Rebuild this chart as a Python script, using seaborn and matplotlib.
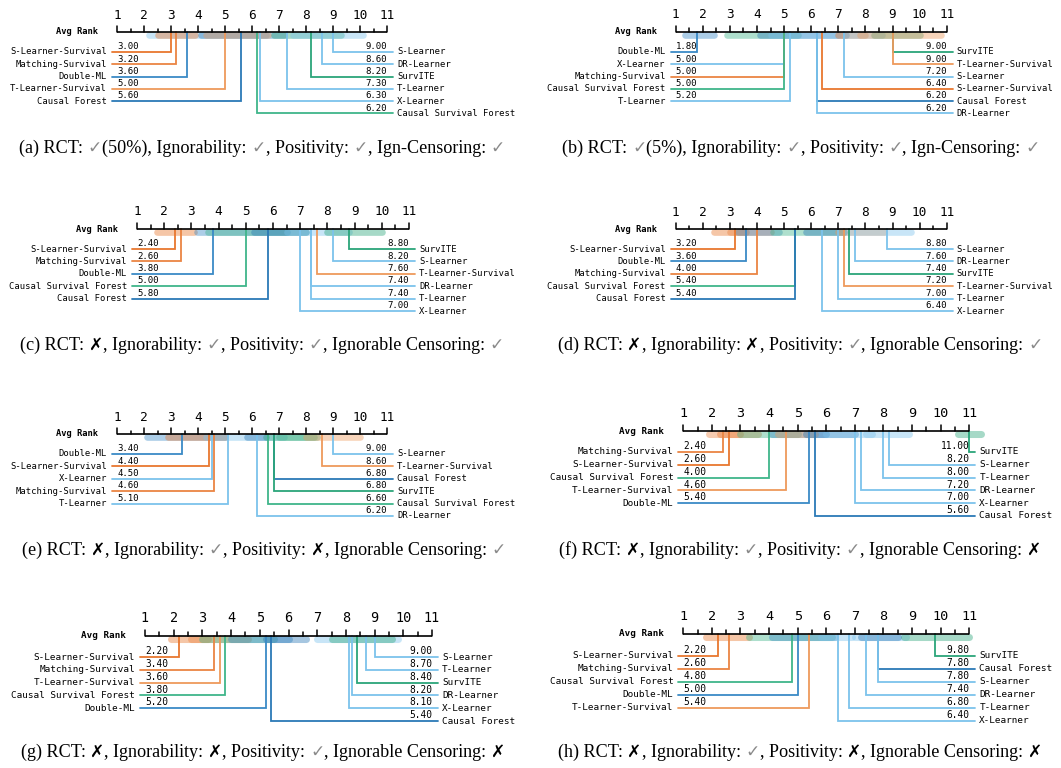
import numpy as np
import pandas as pd
import seaborn as sns
import matplotlib
matplotlib.use("Agg")
import matplotlib.pyplot as plt

sns.set_theme(style="white")
plt.rcParams["font.family"] = ["DejaVu Sans"]

# ---------------- data ----------------
panels = ["a", "b", "c", "d", "e", "f", "g", "h"]

# display order: first 5 are on the left (top->bottom), last 6 on the right (top->bottom)
methods = {
    "a": ["S-Learner-Survival", "Matching-Survival", "Double-ML", "T-Learner-Survival", "Causal Forest",
          "S-Learner", "DR-Learner", "SurvITE", "T-Learner", "X-Learner", "Causal Survival Forest"],
    "b": ["Double-ML", "X-Learner", "Matching-Survival", "Causal Survival Forest", "T-Learner",
          "SurvITE", "T-Learner-Survival", "S-Learner", "S-Learner-Survival", "Causal Forest", "DR-Learner"],
    "c": ["S-Learner-Survival", "Matching-Survival", "Double-ML", "Causal Survival Forest", "Causal Forest",
          "SurvITE", "S-Learner", "T-Learner-Survival", "DR-Learner", "T-Learner", "X-Learner"],
    "d": ["S-Learner-Survival", "Double-ML", "Matching-Survival", "Causal Survival Forest", "Causal Forest",
          "S-Learner", "DR-Learner", "SurvITE", "T-Learner-Survival", "T-Learner", "X-Learner"],
    "e": ["Double-ML", "S-Learner-Survival", "X-Learner", "Matching-Survival", "T-Learner",
          "S-Learner", "T-Learner-Survival", "Causal Forest", "SurvITE", "Causal Survival Forest", "DR-Learner"],
    "f": ["Matching-Survival", "S-Learner-Survival", "Causal Survival Forest", "T-Learner-Survival", "Double-ML",
          "SurvITE", "S-Learner", "T-Learner", "DR-Learner", "X-Learner", "Causal Forest"],
    "g": ["S-Learner-Survival", "Matching-Survival", "T-Learner-Survival", "Causal Survival Forest", "Double-ML",
          "S-Learner", "T-Learner", "SurvITE", "DR-Learner", "X-Learner", "Causal Forest"],
    "h": ["S-Learner-Survival", "Matching-Survival", "Causal Survival Forest", "Double-ML", "T-Learner-Survival",
          "SurvITE", "Causal Forest", "S-Learner", "DR-Learner", "T-Learner", "X-Learner"],
}

ranks = {
    "a": [3.00, 3.20, 3.60, 5.00, 5.60, 9.00, 8.60, 8.20, 7.30, 6.30, 6.20],
    "b": [1.80, 5.00, 5.00, 5.00, 5.20, 9.00, 9.00, 7.20, 6.40, 6.20, 6.20],
    "c": [2.40, 2.60, 3.80, 5.00, 5.80, 8.80, 8.20, 7.60, 7.40, 7.40, 7.00],
    "d": [3.20, 3.60, 4.00, 5.40, 5.40, 8.80, 7.60, 7.40, 7.20, 7.00, 6.40],
    "e": [3.40, 4.40, 4.50, 4.60, 5.10, 9.00, 8.60, 6.80, 6.80, 6.60, 6.20],
    "f": [2.40, 2.60, 4.00, 4.60, 5.40, 11.00, 8.20, 8.00, 7.20, 7.00, 5.60],
    "g": [2.20, 3.40, 3.60, 3.80, 5.20, 9.00, 8.70, 8.40, 8.20, 8.10, 5.40],
    "h": [2.20, 2.60, 4.80, 5.00, 5.40, 9.80, 7.80, 7.80, 7.40, 6.80, 6.40],
}

# shaded rank-spread bands under the axis: (method, low rank, high rank)
bands = {
    "a": [("X-Learner", 2.2, 6.5), ("S-Learner-Survival", 2.5, 3.9), ("Causal Forest", 4.1, 7.2),
          ("T-Learner-Survival", 4.3, 6.6), ("SurvITE", 6.8, 9.3), ("S-Learner", 7.5, 10.1)],
    "b": [("Double-ML", 1.35, 2.4), ("Causal Survival Forest", 2.9, 5.5), ("Causal Forest", 4.1, 7.3),
          ("X-Learner", 4.5, 7.0), ("S-Learner-Survival", 7.0, 8.0), ("S-Learner", 7.3, 8.6),
          ("SurvITE", 8.3, 10.0), ("T-Learner-Survival", 7.8, 10.8)],
    "c": [("S-Learner-Survival", 1.75, 3.1), ("Double-ML", 3.2, 6.5), ("Causal Survival Forest", 3.6, 7.2),
          ("Causal Forest", 5.3, 7.2), ("T-Learner", 6.5, 8.8), ("SurvITE", 8.0, 10.0)],
    "d": [("S-Learner-Survival", 2.4, 3.6), ("Matching-Survival", 3.0, 4.5), ("Double-ML", 3.3, 4.8),
          ("Causal Survival Forest", 4.6, 7.2), ("Causal Forest", 5.8, 7.2),
          ("T-Learner-Survival", 7.0, 8.7), ("DR-Learner", 7.3, 9.7)],
    "e": [("Double-ML", 2.1, 5.0), ("S-Learner-Survival", 2.9, 5.0), ("X-Learner", 4.3, 7.2),
          ("Causal Forest", 5.8, 6.5), ("SurvITE", 6.5, 8.4), ("Causal Survival Forest", 7.0, 8.3),
          ("T-Learner-Survival", 8.0, 10.0)],
    "f": [("Matching-Survival", 1.9, 3.0), ("S-Learner-Survival", 2.3, 3.6), ("Causal Survival Forest", 3.0, 5.0),
          ("Double-ML", 4.1, 6.0), ("T-Learner-Survival", 4.3, 5.6), ("Causal Forest", 5.3, 7.0),
          ("X-Learner", 6.0, 7.6), ("S-Learner", 7.4, 8.9), ("SurvITE", 10.6, 11.4)],
    "g": [("S-Learner-Survival", 1.9, 3.2), ("Matching-Survival", 2.6, 4.6), ("Causal Survival Forest", 3.0, 5.5),
          ("Double-ML", 4.0, 6.0), ("Causal Forest", 5.2, 6.6), ("X-Learner", 7.0, 9.8), ("SurvITE", 7.5, 9.6)],
    "h": [("S-Learner-Survival", 1.8, 3.3), ("Causal Survival Forest", 3.3, 6.2), ("Double-ML", 4.1, 6.3),
          ("X-Learner", 5.8, 6.9), ("T-Learner", 7.0, 8.8), ("Causal Forest", 7.2, 8.5), ("SurvITE", 8.7, 11.0)],
}

captions = {
    "a": "(a) RCT: ✓(50%), Ignorability: ✓, Positivity: ✓, Ign-Censoring: ✓",
    "b": "(b) RCT: ✓(5%), Ignorability: ✓, Positivity: ✓, Ign-Censoring: ✓",
    "c": "(c) RCT: ✗, Ignorability: ✓, Positivity: ✓, Ignorable Censoring: ✓",
    "d": "(d) RCT: ✗, Ignorability: ✗, Positivity: ✓, Ignorable Censoring: ✓",
    "e": "(e) RCT: ✗, Ignorability: ✓, Positivity: ✗, Ignorable Censoring: ✓",
    "f": "(f) RCT: ✗, Ignorability: ✓, Positivity: ✓, Ignorable Censoring: ✗",
    "g": "(g) RCT: ✗, Ignorability: ✗, Positivity: ✓, Ignorable Censoring: ✗",
    "h": "(h) RCT: ✗, Ignorability: ✓, Positivity: ✗, Ignorable Censoring: ✗",
}

tick_values = list(range(1, 12))

# ---------------- styles ----------------
LB = "#7cc3ec"
colors = {
    "S-Learner-Survival": "#e8772f", "Matching-Survival": "#ea8543", "T-Learner-Survival": "#ee9a5c",
    "Double-ML": "#3a8ac6", "Causal Forest": "#2b79b6",
    "S-Learner": LB, "T-Learner": LB, "X-Learner": LB, "DR-Learner": LB,
    "SurvITE": "#2ba57a", "Causal Survival Forest": "#3fb58a",
}

# layout (pixels): rank-1 x, rank-11 x, axis y, first row y, row step, caption centre x, caption baseline
layout = {
    "a": dict(r1=117, r11=387, ay=32, row0=52, step=12.3, cx=262, cy=153, box=(0, 530, 0, 196)),
    "b": dict(r1=675.7, r11=946.7, ay=32, row0=52, step=12.3, cx=801, cy=153, box=(530, 1061, 0, 196)),
    "c": dict(r1=137, r11=409, ay=229, row0=249, step=12.4, cx=262, cy=350, box=(0, 530, 196, 398)),
    "d": dict(r1=675.7, r11=946.7, ay=229, row0=249, step=12.4, cx=800, cy=350, box=(530, 1061, 196, 398)),
    "e": dict(r1=117, r11=387, ay=434, row0=454, step=12.4, cx=264, cy=555, box=(0, 530, 398, 600)),
    "f": dict(r1=683.3, r11=969.3, ay=431, row0=452, step=12.8, cx=800, cy=555, box=(530, 1061, 398, 600)),
    "g": dict(r1=145, r11=432, ay=636, row0=657, step=12.8, cx=263, cy=757, box=(0, 530, 600, 768)),
    "h": dict(r1=683.3, r11=969.3, ay=634, row0=656, step=12.9, cx=800, cy=757, box=(530, 1061, 600, 768)),
}

W, H = 1061, 768
fig = plt.figure(figsize=(W / 100, H / 100), dpi=100)
fig.patch.set_facecolor("white")
MONO = "DejaVu Sans Mono"

for p in panels:
    L = layout[p]
    x0, x1, y0, y1 = L["box"]
    s = (L["r11"] - L["r1"]) / 10.0
    k = s / 27.1
    ax = fig.add_axes([x0 / W, 1 - y1 / H, (x1 - x0) / W, (y1 - y0) / H])
    ax.set_xlim(1 + (x0 - L["r1"]) / s, 1 + (x1 - L["r1"]) / s)
    ax.set_ylim(y1, y0)
    ax.axis("off")
    ay = L["ay"]

    # bands
    for m, lo, hi in bands[p]:
        ax.plot([lo, hi], [ay + 3.4, ay + 3.4], color=colors[m], lw=4.8 * k, alpha=0.42,
                solid_capstyle="round", zorder=1)

    # axis + ticks
    ax.plot([1, 11], [ay, ay], color="black", lw=1.2, zorder=4, solid_capstyle="butt")
    for t in np.arange(1, 11.01, 0.5):
        ln = 6.0 if float(t).is_integer() else 3.5
        ax.plot([t, t], [ay, ay - ln * k], color="black", lw=1.1, zorder=4)
    for t in tick_values:
        ax.text(t, ay - 10.5 * k, str(t), ha="center", va="bottom", fontsize=9.2 * k,
                family=MONO, color="black")
    ax.text(1 - 19 / s, ay, "Avg Rank", ha="right", va="center", fontsize=6.3 * k,
            family=MONO, weight="bold", color="black")

    ms, rs = methods[p], ranks[p]
    for i in range(len(ms)):
        m, r = ms[i], rs[i]
        c = colors[m]
        if i < 5:
            y = L["row0"] + i * L["step"]
            ax.plot([r, r, 1 - 5 / s], [ay, y, y], color=c, lw=1.3, zorder=3,
                    solid_joinstyle="miter")
            ax.text(1, y - 0.8, f"{r:.2f}", ha="left", va="bottom", fontsize=6.5 * k,
                    family=MONO, color="black")
            ax.text(1 - 10 / s, y, m, ha="right", va="center", fontsize=6.4 * k,
                    family=MONO, color="black")
        else:
            y = L["row0"] + (i - 5) * L["step"]
            ax.plot([r, r, 11 + 6 / s], [ay, y, y], color=c, lw=1.3, zorder=3,
                    solid_joinstyle="miter")
            ax.text(11, y - 0.8, f"{r:.2f}", ha="right", va="bottom", fontsize=6.5 * k,
                    family=MONO, color="black")
            ax.text(11 + 10 / s, y, m, ha="left", va="center", fontsize=6.4 * k,
                    family=MONO, color="black")

# ---------------- captions ----------------
renderer = fig.canvas.get_renderer()
SERIF = dict(family="Liberation Serif", fontsize=13.1, color="black")
CHECK = dict(family="DejaVu Sans", fontsize=12.3, color="#8a8a8a")
CROSS = dict(family="DejaVu Sans", fontsize=12.3, color="black", weight="bold")


def width_of(txt, kw):
    t1 = fig.text(0, 0, txt + "|", **kw)
    w1 = t1.get_window_extent(renderer).width
    t1.remove()
    t2 = fig.text(0, 0, "|", **kw)
    w2 = t2.get_window_extent(renderer).width
    t2.remove()
    return w1 - w2


def split_caption(txt):
    segs, buf = [], ""
    for ch in txt:
        if ch in "✓✗":
            if buf:
                segs.append((buf, SERIF))
                buf = ""
            segs.append((ch, CHECK if ch == "✓" else CROSS))
        else:
            buf += ch
    if buf:
        segs.append((buf, SERIF))
    return segs


for p in panels:
    L = layout[p]
    segs = split_caption(captions[p])
    widths = [width_of(t, kw) for t, kw in segs]
    x = L["cx"] - sum(widths) / 2
    for (t, kw), w in zip(segs, widths):
        fig.text(x / W, 1 - L["cy"] / H, t, ha="left", va="baseline", **kw)
        x += w

fig.savefig("out.png", dpi=100, facecolor="white")
